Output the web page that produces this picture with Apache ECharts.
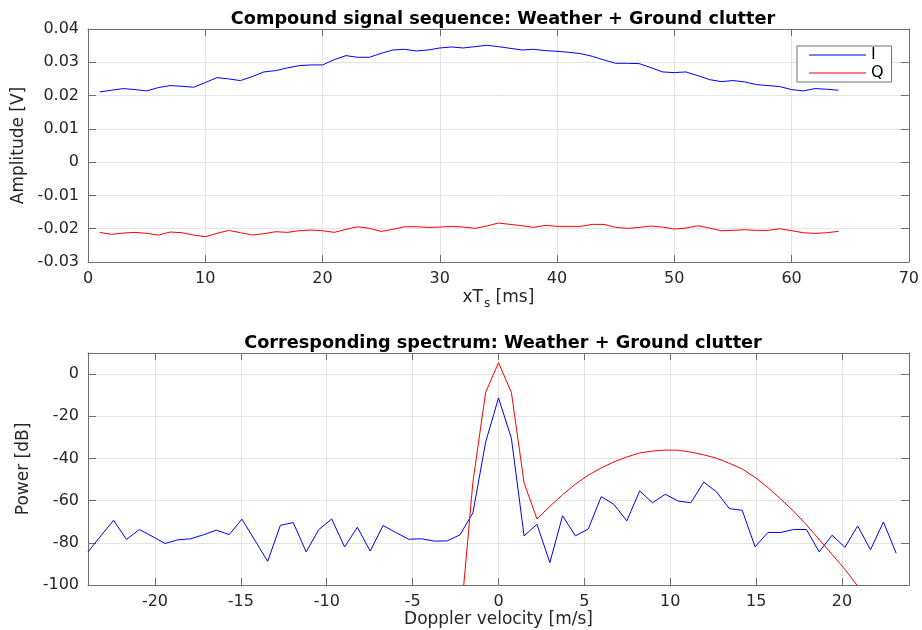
<!DOCTYPE html>
<html>
<head>
<meta charset="utf-8">
<script src="https://cdn.jsdelivr.net/npm/echarts@6/dist/echarts.min.js"></script>
<style>
html,body{margin:0;padding:0;background:#fff;}
#chart{width:922px;height:630px;}
</style>
</head>
<body>
<div id="chart"></div>
<script>
// ---- Top panel: compound signal sequence (I / Q), sample index 1..64 ----
const sampleIdx = Array.from({length: 64}, (_, i) => i + 1);
const seriesI = [
  0.0211,0.0216,0.0221,0.0218,0.0214,0.0224,0.0230,0.0228,0.0225,0.0239,
  0.0254,0.0250,0.0245,0.0257,0.0271,0.0275,0.0283,0.0290,0.0292,0.0292,
  0.0308,0.0320,0.0315,0.0315,0.0327,0.0337,0.0339,0.0334,0.0337,0.0343,
  0.0346,0.0343,0.0347,0.0351,0.0347,0.0342,0.0337,0.0339,0.0335,0.0333,
  0.0330,0.0326,0.0318,0.0307,0.0297,0.0297,0.0296,0.0284,0.0271,0.0269,
  0.0271,0.0260,0.0248,0.0242,0.0245,0.0241,0.0233,0.0230,0.0227,0.0218,
  0.0214,0.0221,0.0219,0.0216
];
const seriesQ = [
  -0.0211,-0.0217,-0.0213,-0.0211,-0.0214,-0.0219,-0.0210,-0.0212,-0.0219,-0.0224,
  -0.0214,-0.0205,-0.0212,-0.0219,-0.0215,-0.0209,-0.0211,-0.0206,-0.0204,-0.0206,
  -0.0211,-0.0202,-0.0194,-0.0199,-0.0208,-0.0202,-0.0194,-0.0194,-0.0196,-0.0195,
  -0.0193,-0.0195,-0.0199,-0.0192,-0.0183,-0.0187,-0.0191,-0.0196,-0.0190,-0.0193,
  -0.0193,-0.0193,-0.0187,-0.0187,-0.0196,-0.0199,-0.0196,-0.0192,-0.0195,-0.0201,
  -0.0198,-0.0191,-0.0198,-0.0206,-0.0205,-0.0203,-0.0205,-0.0205,-0.0200,-0.0206,
  -0.0212,-0.0214,-0.0212,-0.0208
];

// ---- Bottom panel: Doppler spectrum ----
const velocity = [
  -23.90,-23.15,-22.41,-21.66,-20.91,-20.17,-19.42,-18.67,-17.93,-17.18,
  -16.43,-15.68,-14.94,-14.19,-13.44,-12.70,-11.95,-11.20,-10.46,-9.71,
  -8.96,-8.22,-7.47,-6.72,-5.98,-5.23,-4.48,-3.73,-2.99,-2.24,
  -1.49,-0.75,0.00,0.75,1.49,2.24,2.99,3.73,4.48,5.23,
  5.98,6.72,7.47,8.22,8.96,9.71,10.46,11.20,11.95,12.70,
  13.44,14.19,14.94,15.68,16.43,17.18,17.93,18.67,19.42,20.17,
  20.91,21.66,22.41,23.15
];
const powerMeasured = [
  -84.3,-76.7,-69.3,-78.4,-73.7,-76.9,-80.3,-78.6,-78.1,-76.2,
  -74.0,-76.1,-68.8,-78.7,-88.8,-71.7,-70.4,-84.3,-73.7,-68.7,
  -82.0,-72.6,-83.9,-71.8,-75.1,-78.3,-78.1,-79.2,-79.1,-76.2,
  -65.8,-32.3,-11.3,-30.4,-76.7,-71.2,-89.4,-67.2,-76.7,-73.4,
  -58.1,-61.8,-69.6,-55.4,-61.0,-57.0,-60.2,-61.0,-51.2,-55.9,
  -63.8,-64.6,-81.9,-75.1,-75.1,-73.7,-73.7,-84.3,-76.4,-82.1,
  -72.0,-83.3,-70.1,-84.9
];
const powerModel = [
  null,null,null,null,null,null,null,null,null,null,
  null,null,null,null,null,null,null,null,null,null,
  null,null,null,null,null,null,null,null,null,-120.0,
  -51.2,-8.7,5.4,-8.7,-51.6,-68.7,-62.7,-57.2,-52.1,-47.9,
  -44.5,-41.6,-39.3,-37.4,-36.5,-36.0,-36.1,-37.0,-38.3,-39.9,
  -42.3,-45.0,-49.0,-53.8,-59.2,-65.0,-71.5,-78.4,-85.5,-92.6,
  -100.5,-108.0,-116.0,-125.0
];

const topTitle = 'Compound signal sequence: Weather + Ground clutter';
const bottomTitle = 'Corresponding spectrum: Weather + Ground clutter';

const FONT = 'DejaVu Sans';
const AX = '#6e6e6e';
const TXT = '#262626';
const GRID = '#e4e4e4';

function mainX(gridIndex, extra) {
  return Object.assign({
    type: 'value', gridIndex, position: 'bottom',
    axisLine: {show: true, onZero: false, lineStyle: {color: AX, width: 1}},
    axisTick: {show: true, inside: true, length: 7, lineStyle: {color: AX}},
    axisLabel: {color: TXT, fontSize: 16, fontFamily: FONT, margin: 9},
    splitLine: {show: true, lineStyle: {color: GRID, width: 1}}
  }, extra);
}
function mirrorX(gridIndex, extra) {
  return Object.assign({
    type: 'value', gridIndex, position: 'top',
    axisLine: {show: true, onZero: false, lineStyle: {color: AX, width: 1}},
    axisTick: {show: true, inside: true, length: 7, lineStyle: {color: AX}},
    axisLabel: {show: false},
    splitLine: {show: false}
  }, extra);
}
function mainY(gridIndex, extra) {
  return Object.assign({
    type: 'value', gridIndex, position: 'left',
    axisLine: {show: true, onZero: false, lineStyle: {color: AX, width: 1}},
    axisTick: {show: true, inside: true, length: 8, lineStyle: {color: AX}},
    axisLabel: {color: TXT, fontSize: 16, fontFamily: FONT, margin: 9},
    splitLine: {show: true, lineStyle: {color: GRID, width: 1}}
  }, extra);
}
function mirrorY(gridIndex, extra) {
  return Object.assign({
    type: 'value', gridIndex, position: 'right',
    axisLine: {show: true, onZero: false, lineStyle: {color: AX, width: 1}},
    axisTick: {show: true, inside: true, length: 8, lineStyle: {color: AX}},
    axisLabel: {show: false},
    splitLine: {show: false}
  }, extra);
}

const topXRange = {min: 0, max: 70, interval: 10};
const topYRange = {min: -0.03, max: 0.04, interval: 0.01};
const botXRange = {min: -23.9, max: 23.9, splitNumber: 9};
const botYRange = {min: -100, max: 10, interval: 20};

const fmtV = v => { const r = Math.round(v * 1000) / 1000; return r === 0 ? '0' : String(r); };

const chart = echarts.init(document.getElementById('chart'), null, {renderer: 'canvas'});
chart.setOption({
  animation: false,
  backgroundColor: '#fff',
  textStyle: {fontFamily: FONT},
  title: [
    {text: topTitle, left: 498, top: 5, textAlign: 'center',
     textStyle: {fontFamily: FONT, fontSize: 17.7, fontWeight: 'bold', color: '#000'}},
    {text: bottomTitle, left: 498, top: 329, textAlign: 'center',
     textStyle: {fontFamily: FONT, fontSize: 17.7, fontWeight: 'bold', color: '#000'}}
  ],
  grid: [
    {left: 88, top: 29, width: 821, height: 233},
    {left: 88, top: 353, width: 821, height: 232}
  ],
  legend: {
    data: ['I', 'Q'],
    orient: 'vertical',
    left: 797, top: 46,
    itemWidth: 57, itemHeight: 16, itemGap: 2,
    padding: [1, 8, 1, 12],
    backgroundColor: '#fff',
    borderColor: '#6e6e6e', borderWidth: 1, borderRadius: 0,
    textStyle: {fontFamily: FONT, fontSize: 16, color: '#000'},
    icon: 'path://M0,0 L57,0 L57,1 L0,1 Z'
  },
  xAxis: [
    mainX(0, Object.assign({
      name: '{a|xT}{b|s}{a| [ms]}', nameLocation: 'middle', nameGap: 24,
      nameTextStyle: {color: TXT, rich: {
        a: {fontFamily: FONT, fontSize: 17, color: TXT},
        b: {fontFamily: FONT, fontSize: 12, color: TXT, padding: [12, 0, 0, 1]}
      }}
    }, topXRange)),
    mirrorX(0, topXRange),
    mainX(1, Object.assign({
      name: 'Doppler velocity [m/s]', nameLocation: 'middle', nameGap: 23,
      nameTextStyle: {color: TXT, fontFamily: FONT, fontSize: 17},
      axisLabel: {color: TXT, fontSize: 16, fontFamily: FONT, margin: 9, showMinLabel: false, showMaxLabel: false}
    }, botXRange)),
    mirrorX(1, botXRange)
  ],
  yAxis: [
    mainY(0, Object.assign({
      name: 'Amplitude [V]', nameLocation: 'middle', nameGap: 54,
      nameTextStyle: {color: TXT, fontFamily: FONT, fontSize: 17},
      axisLabel: {color: TXT, fontSize: 16, fontFamily: FONT, margin: 9, formatter: fmtV}
    }, topYRange)),
    mirrorY(0, topYRange),
    mainY(1, Object.assign({
      name: 'Power [dB]', nameLocation: 'middle', nameGap: 49,
      nameTextStyle: {color: TXT, fontFamily: FONT, fontSize: 17},
      axisLabel: {color: TXT, fontSize: 16, fontFamily: FONT, margin: 9, showMaxLabel: false}
    }, botYRange)),
    mirrorY(1, botYRange)
  ],
  series: [
    {name: 'I', type: 'line', xAxisIndex: 0, yAxisIndex: 0, showSymbol: false, symbol: 'none',
     data: sampleIdx.map((t, i) => [t, seriesI[i]]), lineStyle: {color: '#0000ff', width: 1}, itemStyle: {color: '#0000ff'}},
    {name: 'Q', type: 'line', xAxisIndex: 0, yAxisIndex: 0, showSymbol: false, symbol: 'none',
     data: sampleIdx.map((t, i) => [t, seriesQ[i]]), lineStyle: {color: '#ff0000', width: 1}, itemStyle: {color: '#ff0000'}},
    {name: 'Spectrum', type: 'line', xAxisIndex: 2, yAxisIndex: 2, showSymbol: false, symbol: 'none', clip: true,
     data: velocity.map((v, i) => [v, powerMeasured[i]]), lineStyle: {color: '#0000ff', width: 1}, itemStyle: {color: '#0000ff'}},
    {name: 'Model', type: 'line', xAxisIndex: 2, yAxisIndex: 2, showSymbol: false, symbol: 'none', clip: true,
     data: velocity.map((v, i) => [v, powerModel[i]]), lineStyle: {color: '#ff0000', width: 1}, itemStyle: {color: '#ff0000'}}
  ]
});
</script>
</body>
</html>
